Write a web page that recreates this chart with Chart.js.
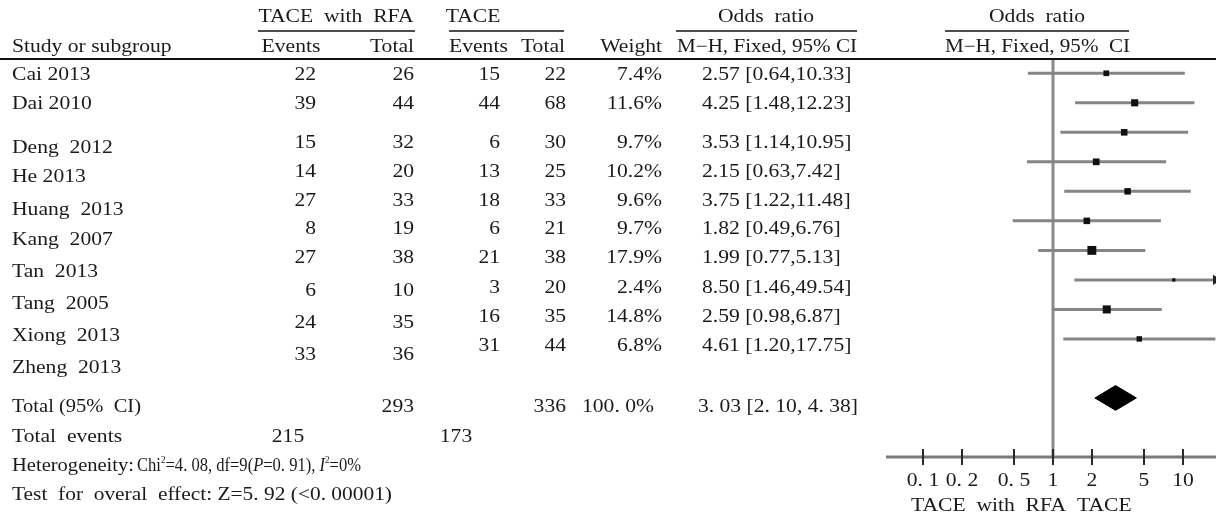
<!DOCTYPE html>
<html><head><meta charset="utf-8">
<script src="https://cdn.jsdelivr.net/npm/chart.js@4.4.0/dist/chart.umd.min.js"></script>
<style>html,body{margin:0;padding:0;background:#fff;}#wrap{width:1216px;height:514px;}</style>
</head><body><div id="wrap"><canvas id="c" width="1216" height="514"></canvas></div>
<script>
// ---- data ----
const studies = ["Cai 2013","Dai 2010","Deng  2012","He 2013","Huang  2013","Kang  2007","Tan  2013","Tang  2005","Xiong  2013","Zheng  2013"];
const eventsRFA = [22,39,15,14,27,8,27,6,24,33];
const totalRFA = [26,44,32,20,33,19,38,10,35,36];
const eventsTACE = [15,44,6,13,18,6,21,3,16,31];
const totalTACE = [22,68,30,25,33,21,38,20,35,44];
const weights = [7.4,11.6,9.7,10.2,9.6,9.7,17.9,2.4,14.8,6.8];
const oddsRatio = [2.57,4.25,3.53,2.15,3.75,1.82,1.99,8.50,2.59,4.61];
const ciLow = [0.64,1.48,1.14,0.63,1.22,0.49,0.77,1.46,0.98,1.20];
const ciHigh = [10.33,12.23,10.95,7.42,11.48,6.76,5.13,49.54,6.87,17.75];
const pooledOR = 3.03, pooledLow = 2.10, pooledHigh = 4.38, pooledWeight = 100.0;
const sumTotalRFA = 293, sumTotalTACE = 336, sumEventsRFA = 215, sumEventsTACE = 173;
const tickValues = [0.1,0.2,0.5,1,2,5,10];
const tickLabels = ["0. 1","0. 2","0. 5","1","2","5","10"];

// ---- layout (pixel rows for the text table) ----
const nameY = [75,104,148,177,210,240,272,304,336,368];
const leftNumY = [75,104,143,172,201,229,258,291,323,355];
const rightNumY = [75,104,143,172,201,229,258,288,317,346];
const SX = 1.2;
const FONT = '"Liberation Serif", serif';
const X_MIN = Math.pow(10,-1.285), X_MAX = Math.pow(10,1.254);

function fnt(size, italic){ return (italic?'italic ':'') + size + 'px ' + FONT; }
function txt(ctx, s, x, y, align, opt){
  opt = opt || {};
  ctx.save();
  ctx.font = fnt(opt.size||18, opt.italic);
  ctx.fillStyle = '#1a1a1a';
  ctx.textBaseline = 'middle';
  let sx = opt.sx || SX;
  if (opt.width){ sx = opt.width / ctx.measureText(s).width; }
  ctx.translate(x, y); ctx.scale(sx, 1);
  ctx.textAlign = align || 'left';
  ctx.fillText(s, 0, 0);
  ctx.restore();
}
// rich text: segments [text, kind] kind: '', 'i', 'sup'
function rich(ctx, segs, x, y, width){
  ctx.save();
  ctx.textBaseline = 'middle';
  ctx.fillStyle = '#1a1a1a';
  let total = 0;
  const ws = segs.map(([t,k])=>{ ctx.font = k==='sup'?fnt(10):fnt(18, k==='i'); const w = ctx.measureText(t).width; total += w; return w; });
  const sx = width / total;
  ctx.translate(x, y); ctx.scale(sx, 1);
  let cx = 0;
  segs.forEach(([t,k],i)=>{
    ctx.font = k==='sup'?fnt(10):fnt(18, k==='i');
    ctx.fillText(t, cx, k==='sup' ? -6 : 0);
    cx += ws[i];
  });
  ctx.restore();
}
function hline(ctx, x1, x2, y, w, c){ ctx.save(); ctx.strokeStyle=c||'#111'; ctx.lineWidth=w; ctx.beginPath(); ctx.moveTo(x1,y); ctx.lineTo(x2,y); ctx.stroke(); ctx.restore(); }

const tablePlugin = {
  id: 'table',
  afterDraw(chart){
    const ctx = chart.ctx, xs = chart.scales.x, ca = chart.chartArea;
    // header
    txt(ctx, 'TACE  with  RFA', 336, 17, 'center');
    hline(ctx, 258, 415, 31, 1.5);
    txt(ctx, 'TACE', 473, 17, 'center');
    hline(ctx, 449, 564, 31, 1.5);
    txt(ctx, 'Odds  ratio', 766, 17, 'center');
    hline(ctx, 676, 857, 31, 1.5);
    txt(ctx, 'Odds  ratio', 1037, 17, 'center');
    hline(ctx, 945, 1129, 31, 1.5);
    txt(ctx, 'Study or subgroup', 12, 47, 'left');
    txt(ctx, 'Events', 291, 47, 'center');
    txt(ctx, 'Total', 414, 47, 'right');
    txt(ctx, 'Events', 449, 47, 'left');
    txt(ctx, 'Total', 565, 47, 'right');
    txt(ctx, 'Weight', 662, 47, 'right');
    txt(ctx, 'M\u2212H, Fixed, 95% CI', 677, 47, 'left', {width:180});
    txt(ctx, 'M\u2212H, Fixed, 95%  CI', 945, 47, 'left', {width:185});
    hline(ctx, 0, 1216, 59, 2);
    // rows
    studies.forEach((s,i)=>{
      txt(ctx, s, 12, nameY[i], 'left');
      txt(ctx, String(eventsRFA[i]), 316, leftNumY[i], 'right');
      txt(ctx, String(totalRFA[i]), 414, leftNumY[i], 'right');
      txt(ctx, String(eventsTACE[i]), 500, rightNumY[i], 'right');
      txt(ctx, String(totalTACE[i]), 566, rightNumY[i], 'right');
      txt(ctx, weights[i].toFixed(1)+'%', 662, rightNumY[i], 'right');
      txt(ctx, oddsRatio[i].toFixed(2)+' ['+ciLow[i].toFixed(2)+','+ciHigh[i].toFixed(2)+']', 702, rightNumY[i], 'left');
    });
    const sp = v => v.toFixed(2).replace('.', '. ');
    txt(ctx, 'Total (95%  CI)', 12, 407, 'left', {width:129});
    txt(ctx, String(sumTotalRFA), 414, 407, 'right');
    txt(ctx, String(sumTotalTACE), 566, 407, 'right');
    txt(ctx, pooledWeight.toFixed(1).replace('.', '. ')+'%', 654, 407, 'right');
    txt(ctx, sp(pooledOR)+' ['+sp(pooledLow)+', '+sp(pooledHigh)+']', 698, 407, 'left', {width:160});
    txt(ctx, 'Total  events', 12, 437, 'left');
    txt(ctx, String(sumEventsRFA), 288, 437, 'center');
    txt(ctx, String(sumEventsTACE), 456, 437, 'center');
    txt(ctx, 'Heterogeneity:', 12, 466, 'left', {width:122});
    rich(ctx, [['Chi',''],['2','sup'],['=4. 08, df=9(',''],['P','i'],['=0. 91), ',''],['I','i'],['2','sup'],['=0%','']], 137, 466, 224);
    txt(ctx, 'Test  for  overal  effect: Z=5. 92 (<0. 00001)', 12, 495, 'left', {width:380});
    // axis
    hline(ctx, ca.left, ca.right, ca.bottom, 3, '#7a7a7a');
    ctx.save(); ctx.strokeStyle = '#2a2a2a'; ctx.lineWidth = 2;
    tickValues.forEach((v,i)=>{
      const px = Math.round(xs.getPixelForValue(v));
      ctx.beginPath(); ctx.moveTo(px, ca.bottom-8); ctx.lineTo(px, ca.bottom+8); ctx.stroke();
      txt(ctx, tickLabels[i], px, 481, 'center');
    });
    ctx.restore();
    txt(ctx, 'TACE  with  RFA', xs.getPixelForValue(1)+13, 506, 'right');
    txt(ctx, 'TACE', xs.getPixelForValue(1)+24, 506, 'left');
  }
};

const datasets = [];
studies.forEach((s,i)=>{
  datasets.push({type:'line', label:'ci'+i, data:[{x:ciLow[i],y:i},{x:ciHigh[i],y:i}],
    borderColor:'#858585', borderWidth:3, pointRadius:0, fill:false, order:3});
});
datasets.push({type:'line', label:'ref', data:[{x:1,y:-0.45},{x:1,y:13}], borderColor:'#8a8a8a', borderWidth:3, pointRadius:0, order:4});
datasets.push({type:'scatter', label:'or', data:oddsRatio.map((v,i)=>({x:v,y:i})), pointStyle:'rect',
  pointRadius: weights.map(w=>2.1*Math.sqrt(w)/Math.SQRT2), backgroundColor:'#111', borderColor:'#111', borderWidth:0, order:1});
const arrowRows = ciHigh.map((h,i)=>h>X_MAX?i:-1).filter(i=>i>=0);
datasets.push({type:'scatter', label:'arrow', data:arrowRows.map(i=>({x:X_MAX,y:i})), pointStyle:'triangle', rotation:90,
  pointRadius:6, backgroundColor:'#222', borderColor:'#222', borderWidth:0, order:1});
datasets.push({type:'line', label:'pooled', data:[{x:pooledLow,y:11},{x:pooledOR,y:10.58},{x:pooledHigh,y:11},{x:pooledOR,y:11.42},{x:pooledLow,y:11}],
  fill:'shape', backgroundColor:'#000', borderColor:'#000', borderWidth:1, pointRadius:0, tension:0, order:1});

new Chart(document.getElementById('c'), {
  type:'scatter',
  data:{datasets},
  options:{
    responsive:false, animation:false, devicePixelRatio:1,
    layout:{autoPadding:false, padding:{left:886,right:0,top:60,bottom:57}},
    plugins:{legend:{display:false}, tooltip:{enabled:false}},
    scales:{
      x:{type:'logarithmic', min:X_MIN, max:X_MAX, display:false, bounds:'data'},
      y:{type:'linear', min:-0.45, max:13, reverse:true, display:false}
    }
  },
  plugins:[tablePlugin]
});
</script></body></html>
